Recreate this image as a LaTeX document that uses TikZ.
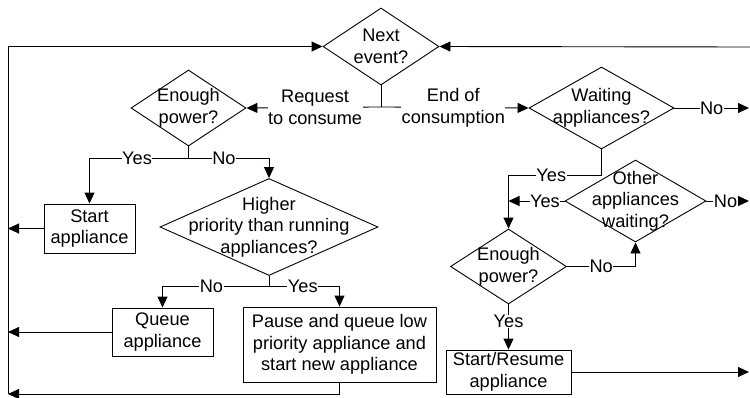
\documentclass[tikz,border=0pt]{standalone}
\usepackage{fontspec}
\setmainfont{Liberation Sans}
\usetikzlibrary{shapes.geometric,arrows.meta,calc}
\begin{document}
\begin{tikzpicture}[x=1pt,y=-1pt,
  every node/.style={font=\fontsize{18.2}{21.7}\selectfont},
  ln/.style={line width=0.9pt,draw=black},
  arr/.style={ln,-{Triangle[length=11pt,width=10pt]}},
  dia/.style={shape=diamond,draw,line width=0.9pt,inner sep=0pt,fill=white},
  txt/.style={align=center,inner sep=0pt},
  box/.style={draw,line width=0.9pt,align=center,inner sep=0pt,fill=white},
  lbl/.style={fill=white,inner sep=0.5pt,align=center}]
\useasboundingbox (0,0) rectangle (750,397);
% coordinates at the picture edges
\coordinate (lbot) at (8,394);
\coordinate (rtop) at (751,47);
\coordinate (rx) at (749,0);
% diamonds
\node[dia,minimum width=116pt,minimum height=77pt] (next) at (381,46.5) {};
\node[txt] (nextt) at (next.center) {Next\\event?};
\node[dia,minimum width=115pt,minimum height=76pt] (en1) at (188.5,108) {};
\node[txt] (en1t) at (en1.center) {Enough\\power?};
\node[dia,minimum width=145pt,minimum height=82pt] (wait) at (601.5,108) {};
\node[txt] (waitt) at (wait.center) {Waiting\\appliances?};
\node[dia,minimum width=218pt,minimum height=97pt] (high) at (269,227) {};
\node[txt] (hight) at (high.center) {Higher\\priority than running\\appliances?};
\node[dia,minimum width=141pt,minimum height=82pt] (other) at (635.5,201) {};
\node[txt] (othert) at (other.center) {Other\\appliances\\waiting?};
\node[dia,minimum width=116pt,minimum height=75pt] (en2) at (508.5,266.5) {};
\node[txt] (en2t) at (en2.center) {Enough\\power?};
% boxes
\node[box,minimum width=91pt,minimum height=49pt] (start) at (89.5,228.5) {Start\\appliance};
\node[box,minimum width=101pt,minimum height=48pt] (queue) at (162.5,332) {Queue\\appliance};
\node[box,minimum width=193pt,minimum height=75pt] (pause) at (339.5,344.5) {Pause and queue low\\priority appliance and\\start new appliance};
\node[box,minimum width=125pt,minimum height=44pt] (sr) at (508.5,372) {Start/Resume\\appliance};
% main loop
\draw[arr] (lbot) |- (next.west);
\draw[arr] (rtop) -- (next.east);
% next event branches
\draw[ln] (next.south) -- ++(0,21.5) coordinate (tj);
\draw[arr] (tj) -- node[lbl,pos=0.49]{Request\\to consume} (en1.east);
\draw[arr] (tj) -- node[lbl,pos=0.49]{End of\\consumption} (wait.west);
% left part
\draw[ln] (en1.south) -- ++(0,12) coordinate (j1);
\draw[arr] (j1) -| node[lbl,pos=0.26]{Yes} (start.north);
\draw[arr] (j1) -| node[lbl,pos=0.22]{No} (high.north);
\draw[arr] (start.west) -- (start.west -| lbot);
\draw[ln] (high.south) -- ++(0,10.5) coordinate (j2);
\draw[arr] (j2) -| node[lbl,pos=0.27]{No} (queue.north);
\draw[arr] (j2) -| node[lbl,pos=0.24]{Yes} (pause.north);
\draw[arr] (queue.west) -- (queue.west -| lbot);
\draw[arr] (pause.south) |- (lbot);
% right part
\draw[arr] (wait.east) -- node[lbl]{No} (wait.east -| rx);
\draw[ln] (wait.south) -- ++(0,26) coordinate (j3);
\draw[arr] (j3) -| node[lbl,pos=0.27]{Yes} (en2.north);
\draw[arr] (other.west) -- node[lbl,pos=0.35]{Yes} (other.west -| en2.north);
\draw[arr] (other.east) -- node[lbl,pos=0.45]{No} (other.east -| rx);
\draw[arr] (en2.east) -| node[lbl,pos=0.25]{No} (other.south);
\draw[arr] (en2.south) -- node[lbl,pos=0.38]{Yes} (sr.north);
\draw[arr] (sr.east) -- (sr.east -| rx);
\end{tikzpicture}
\end{document}
